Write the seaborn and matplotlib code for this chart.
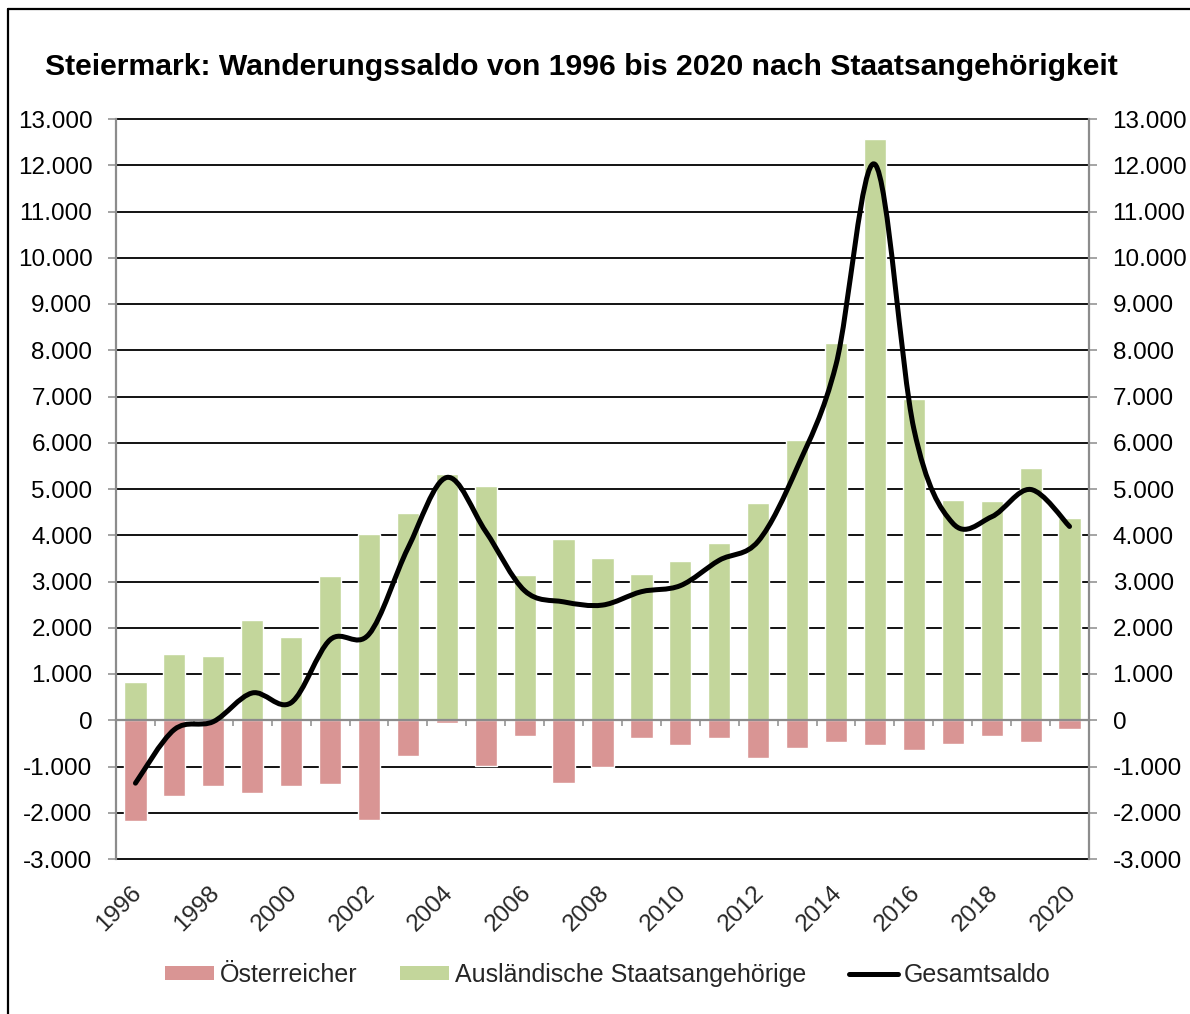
import numpy as np
import pandas as pd
import matplotlib
matplotlib.use("Agg")
import matplotlib.pyplot as plt
import seaborn as sns
from matplotlib.path import Path
from matplotlib.patches import PathPatch, Patch
from matplotlib.lines import Line2D
from matplotlib.transforms import ScaledTranslation

# ---------------- data ----------------
years = list(range(1996, 2021))
oesterreicher = [-2180, -1630, -1420, -1580, -1420, -1370, -2160, -770, -70, -980,
                 -330, -1350, -1010, -380, -540, -380, -820, -610, -460, -540,
                 -640, -510, -350, -460, -190]
auslaender = [820, 1430, 1390, 2170, 1800, 3110, 4020, 4490, 5320, 5060,
              3130, 3910, 3500, 3160, 3450, 3840, 4690, 6070, 8150, 12560,
              6940, 4770, 4750, 5450, 4380]
gesamtsaldo = [-1360, -200, -30, 590, 380, 1740, 1860, 3720, 5250, 4080,
               2800, 2560, 2490, 2780, 2910, 3460, 3870, 5460, 7690, 12020,
               6300, 4260, 4400, 4990, 4190]
y_ticks = list(range(-3000, 13001, 1000))
x_label_years = list(range(1996, 2021, 2))

title = "Steiermark: Wanderungssaldo von 1996 bis 2020 nach Staatsangehörigkeit"
series_names = ["Österreicher", "Ausländische Staatsangehörige", "Gesamtsaldo"]

RED = "#D99594"
GREEN = "#C3D69B"
GRAY = "#8C8C8C"

sns.set_theme(style="white")
plt.rcParams["font.family"] = ["Liberation Sans", "DejaVu Sans"]

W, H = 1190, 1014
fig = plt.figure(figsize=(W / 100, H / 100), dpi=100)
fig.patch.set_facecolor("white")

left, right, top, bottom = 116, 1089, 119, 859
ax = fig.add_axes([left / W, 1 - bottom / H, (right - left) / W, (bottom - top) / H])

df = pd.DataFrame({"Jahr": [str(y) for y in years],
                   "oe": oesterreicher, "aus": auslaender})

sns.barplot(data=df, x="Jahr", y="aus", color=GREEN, saturation=1, width=0.57,
            ax=ax, zorder=2)
sns.barplot(data=df, x="Jahr", y="oe", color=RED, saturation=1, width=0.57,
            ax=ax, zorder=2)

# smoothed total line (Bezier through data points, Excel-like smoothing)
xs = np.arange(len(years), dtype=float)
ys = np.array(gesamtsaldo, dtype=float)
verts = [(xs[0], ys[0])]
codes = [Path.MOVETO]
n = len(xs)
for i in range(n - 1):
    p0 = np.array([xs[max(i - 1, 0)], ys[max(i - 1, 0)]])
    p1 = np.array([xs[i], ys[i]])
    p2 = np.array([xs[i + 1], ys[i + 1]])
    p3 = np.array([xs[min(i + 2, n - 1)], ys[min(i + 2, n - 1)]])
    c1 = p1 + (p2 - p0) / 6.0
    c2 = p2 - (p3 - p1) / 6.0
    verts += [tuple(c1), tuple(c2), tuple(p2)]
    codes += [Path.CURVE4] * 3
ax.add_patch(PathPatch(Path(verts, codes), facecolor="none", edgecolor="black",
                       lw=3.6, zorder=4, capstyle="round", joinstyle="round"))

# axes styling
ax.set_xlim(-0.5, len(years) - 0.5)
ax.set_ylim(-3000, 13000)
ax.set_yticks(y_ticks)
fmt = lambda v: f"{v:,.0f}".replace(",", ".")
ax.set_yticklabels([fmt(v) for v in y_ticks])
ax.set_xlabel("")
ax.set_ylabel("")
ax.set_axisbelow(True)
ax.yaxis.grid(True, color="black", lw=1.3)
for gl in ax.get_ygridlines():
    gl.set_clip_on(False)
ax.xaxis.grid(False)

ax.tick_params(axis="y", which="major", left=True, right=True, labelleft=True,
               labelright=True, length=6, width=1.1, color=GRAY, direction="out",
               labelsize=17.5, pad=11, labelcolor="black")
ax.spines["top"].set_visible(False)
for s in ["left", "right"]:
    ax.spines[s].set_color(GRAY)
    ax.spines[s].set_linewidth(1.6)
ax.spines["bottom"].set_position(("data", 0))
ax.spines["bottom"].set_color(GRAY)
ax.spines["bottom"].set_linewidth(1.6)
ax.spines["bottom"].set_zorder(3)

ax.set_xticks([])
ax.set_xticks(np.arange(-0.5, len(years), 1.0), minor=True)
ax.tick_params(axis="x", which="minor", length=4.5, width=1.1, color=GRAY,
               direction="out", bottom=True)

sec = ax.secondary_xaxis(0.0)
sec.set_xticks([years.index(y) for y in x_label_years])
sec.set_xticklabels([str(y) for y in x_label_years], rotation=45,
                    ha="right", va="center", rotation_mode="anchor", fontsize=17.5)
sec.tick_params(axis="x", length=0, pad=22)
for s in sec.spines.values():
    s.set_visible(False)
for lab in sec.get_xticklabels():
    lab.set_transform(lab.get_transform() + ScaledTranslation(3 / 100, 0, fig.dpi_scale_trans))

# title
fig.text(45 / W, 1 - 75 / H, title, fontsize=21.7, fontweight="bold",
         ha="left", va="baseline", color="black")

# legend
handles = [Patch(facecolor=RED, edgecolor="none"),
           Patch(facecolor=GREEN, edgecolor="none"),
           Line2D([0], [0], color="black", lw=3.6)]
fig.legend(handles, series_names, loc="center", bbox_to_anchor=(608 / W, 1 - 975 / H),
           ncol=3, frameon=False, fontsize=18, handlelength=1.95, handleheight=0.45,
           handletextpad=0.25, columnspacing=1.7, borderpad=0)

# outer frame (top and left edges visible)
fig.add_artist(Line2D([7.5 / W, 7.5 / W], [0, 1 - 8.5 / H], color="black", lw=1.6,
                      transform=fig.transFigure))
fig.add_artist(Line2D([7.5 / W, 1], [1 - 8.5 / H, 1 - 8.5 / H], color="black", lw=1.6,
                      transform=fig.transFigure))

fig.savefig("out.png", dpi=100, facecolor="white")
